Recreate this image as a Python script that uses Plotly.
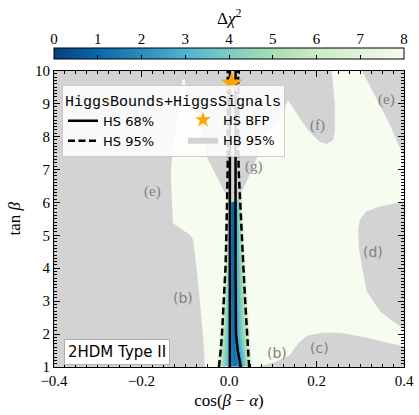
import plotly.graph_objects as go

# ---------------- data ----------------
# Delta chi^2 field (HiggsSignals)
cos_nodes = [-0.40, -0.032, -0.026, -0.020, -0.014, -0.008, -0.003, 0.002, 0.007, 0.012,
             0.017, 0.022, 0.027, 0.032, 0.037, 0.042, 0.047, 0.053, 0.40]
tanb_nodes = [1.0, 1.5, 2.0, 3.0, 4.0, 5.0, 6.0, 7.0, 8.0, 9.0, 10.0]
dchi2 = [
    [9, 8.0, 6.5, 5.6, 4.7, 3.8, 3.0, 2.3, 1.7, 1.3, 1.3, 1.7, 2.3, 3.3, 4.3, 5.2, 6.2, 8.0, 9],
    [9, 9, 7.5, 6.2, 5.0, 4.0, 3.1, 2.3, 1.5, 1.2, 1.7, 2.6, 3.3, 4.0, 4.9, 5.8, 7.0, 9, 9],
    [9, 9, 8.5, 7.0, 5.6, 4.3, 3.2, 2.3, 1.3, 1.2, 2.5, 3.3, 4.0, 4.7, 5.4, 6.2, 7.8, 9, 9],
    [9, 9, 9, 8.5, 6.7, 4.8, 3.4, 2.3, 1.2, 1.2, 2.7, 3.6, 4.4, 5.2, 6.0, 7.5, 9, 9, 9],
    [9, 9, 9, 9, 8.3, 6.0, 3.8, 2.3, 1.1, 1.1, 2.8, 3.9, 4.9, 5.8, 7.5, 9, 9, 9, 9],
    [9, 9, 9, 9, 9, 7.0, 4.2, 2.3, 1.0, 1.0, 3.0, 4.3, 5.5, 7.3, 9, 9, 9, 9, 9],
    [9, 9, 9, 9, 9, 8.5, 5.3, 2.3, 0.9, 0.9, 3.2, 4.9, 6.8, 9, 9, 9, 9, 9, 9],
    [9, 9, 9, 9, 9, 9, 6.0, 2.3, 0.7, 0.7, 3.4, 6.0, 8.5, 9, 9, 9, 9, 9, 9],
    [9, 9, 9, 9, 9, 9, 6.0, 2.3, 0.5, 0.5, 3.3, 6.4, 9, 9, 9, 9, 9, 9, 9],
    [9, 9, 9, 9, 9, 9, 6.0, 2.2, 0.1, 0.2, 3.2, 6.4, 9, 9, 9, 9, 9, 9, 9],
    [9, 9, 9, 9, 9, 9, 6.0, 2.2, 0.3, 0.3, 3.2, 6.4, 9, 9, 9, 9, 9, 9, 9],
]

# HS contours (68% solid, 95% dashed)
tanb_lines = [1.0, 1.2, 1.5, 2.0, 3.0, 4.0, 5.0, 6.0, 7.0, 8.0, 9.0, 10.0]
hs68_left = [0.002, 0.002, 0.002, 0.002, 0.002, 0.002, 0.002, 0.002, 0.002, 0.002, 0.002, 0.002]
hs68_right = [0.027, 0.024, 0.020, 0.016, 0.015, 0.015, 0.015, 0.015, 0.015, 0.015, 0.015, 0.015]
hs95_left = [-0.023, -0.021, -0.019, -0.016, -0.012, -0.008, -0.006, -0.004, -0.003, -0.003, -0.003, -0.003]
hs95_right = [0.046, 0.045, 0.043, 0.041, 0.037, 0.033, 0.029, 0.025, 0.022, 0.021, 0.021, 0.021]

# HiggsBounds 95% excluded regions (polygons)
hb_main_x = [-0.4, -0.4, 0.235, 0.242, 0.242, 0.238, 0.224, 0.208, 0.185, 0.162, 0.144, 0.135,
             0.117, 0.082, 0.064, 0.048, 0.030, 0.021, 0.002, -0.005, -0.027, -0.050, -0.066,
             -0.089, -0.098, -0.101, -0.107, -0.110, -0.117, -0.128, -0.130, -0.133, -0.130,
             -0.128, -0.089, -0.082, -0.073, -0.066, -0.059, -0.055]
hb_main_y = [1.0, 10.0, 10.0, 8.93, 8.129, 7.891, 7.772, 7.832, 8.129, 8.544, 8.93, 9.079,
             8.634, 7.891, 7.356, 6.851, 6.347, 6.05, 5.99, 6.168, 6.762, 7.356, 8.337,
             9.079, 9.346, 9.733, 9.733, 9.346, 8.634, 7.742, 7.386, 6.851, 5.871,
             5.366, 5.01, 4.861, 3.881, 2.901, 1.891, 1.0]
hb_e_x = [0.304, 0.322, 0.345, 0.368, 0.391, 0.4, 0.4]
hb_e_y = [10.0, 9.525, 8.93, 8.337, 7.653, 7.386, 10.0]
hb_d_x = [0.4, 0.345, 0.313, 0.299, 0.295, 0.297, 0.304, 0.315, 0.345, 0.379, 0.4]
hb_d_y = [6.02, 5.87, 5.72, 5.46, 5.16, 4.62, 4.03, 3.29, 2.69, 2.34, 2.16]
hb_c_x = [0.066, 0.105, 0.139, 0.158, 0.178, 0.215, 0.254, 0.315, 0.361, 0.4, 0.4]
hb_c_y = [1.0, 1.149, 1.356, 1.713, 1.95, 2.04, 2.04, 1.891, 1.743, 1.624, 1.0]

# HiggsSignals best fit point
bfp_cos = [0.006]
bfp_tanb = [9.62]

# region labels
label_text = ["(b)", "(b)", "(c)", "(d)", "(e)", "(e)", "(f)", "(g)"]
label_x = [-0.105, 0.11, 0.206, 0.329, -0.176, 0.359, 0.203, 0.057]
label_y = [3.11, 1.42, 1.59, 4.50, 6.32, 9.11, 8.34, 7.09]
label_serif = [False, False, False, False, True, True, True, True]

x_ticks = [-0.4, -0.2, 0.0, 0.2, 0.4]
x_ticklabels = ["\u22120.4", "\u22120.2", "0.0", "0.2", "0.4"]
y_ticks = [1, 2, 3, 4, 5, 6, 7, 8, 9, 10]
cbar_ticks = [0, 1, 2, 3, 4, 5, 6, 7, 8]

gnbu_r = [
    [0.0, "rgb(8,64,129)"], [0.125, "rgb(8,104,172)"], [0.25, "rgb(43,140,190)"],
    [0.375, "rgb(78,179,211)"], [0.5, "rgb(123,204,196)"], [0.625, "rgb(168,221,181)"],
    [0.75, "rgb(204,235,197)"], [0.875, "rgb(224,243,219)"], [1.0, "rgb(247,252,240)"],
]

# ---------------- layout geometry ----------------
W, H = 419, 415
ML, MR, MT, MB = 54, 15, 0, 48
PH = H - MT - MB          # plot-area height in px (367)
plot_top_px = 64
bar_top_px, bar_bot_px = 46, 57

serif = "Liberation Serif"
sans = "DejaVu Sans"

fig = go.Figure()

fig.add_trace(go.Heatmap(
    x=cos_nodes, y=tanb_nodes, z=dchi2, zmin=0, zmax=8, zsmooth="best",
    colorscale=gnbu_r, hoverinfo="skip",
    colorbar=dict(
        orientation="h", x=0.5, xanchor="center", len=1, lenmode="fraction",
        y=(PH - bar_bot_px) / PH, yanchor="bottom", thickness=bar_bot_px - bar_top_px,
        xpad=0, ypad=0, outlinecolor="black", outlinewidth=1,
        ticks="inside", ticklen=4, tickcolor="black", tick0=0, dtick=1,
        showticklabels=False,
    ),
))

def join(*polys):
    xs, ys = [], []
    for px_, py_ in polys:
        if xs:
            xs.append(None); ys.append(None)
        xs += px_; ys += py_
    return xs, ys

gx, gy = join((hb_main_x, hb_main_y), (hb_e_x, hb_e_y), (hb_d_x, hb_d_y), (hb_c_x, hb_c_y))
fig.add_trace(go.Scatter(
    x=gx, y=gy, mode="lines", fill="toself", fillcolor="#d3d3d3",
    line=dict(width=0, color="#d3d3d3"), name="HB 95%", legend="legend2",
    legendrank=2, hoverinfo="skip",
))

lx, ly = join((hs68_left, tanb_lines), (hs68_right, tanb_lines))
fig.add_trace(go.Scatter(
    x=lx, y=ly, mode="lines", line=dict(color="black", width=2.5),
    name="HS 68%", legend="legend", hoverinfo="skip",
))
dx, dy = join((hs95_left, tanb_lines), (hs95_right, tanb_lines))
fig.add_trace(go.Scatter(
    x=dx, y=dy, mode="lines", line=dict(color="black", width=2.5, dash="7px,3.5px"),
    name="HS 95%", legend="legend", hoverinfo="skip",
))
fig.add_trace(go.Scatter(
    x=bfp_cos, y=bfp_tanb, mode="markers",
    marker=dict(symbol="star", size=17, color="#ffa500", line=dict(width=0)),
    name="HS BFP", legend="legend2", legendrank=1, hoverinfo="skip",
))
# carrier for the colour-bar label axis
fig.add_trace(go.Scatter(x=[None], y=[None], xaxis="x2", showlegend=False, hoverinfo="skip"))

for t, x, y, s in zip(label_text, label_x, label_y, label_serif):
    fig.add_annotation(x=x, y=y, text=t, showarrow=False,
                       font=dict(family=serif if s else sans, size=15 if s else 14, color="#808080"))

fig.add_annotation(x=-0.257, y=1.46, text="2HDM Type II", showarrow=False,
                   font=dict(family=sans, size=15, color="black"),
                   bgcolor="white", bordercolor="#b0b0b0", borderwidth=1, borderpad=3)

# colour-bar title
fig.add_annotation(xref="paper", yref="paper", x=0.5, y=(PH - 23) / PH, yanchor="bottom",
                   showarrow=False, text="\u0394<i>\u03c7</i><sup>2</sup>",
                   font=dict(family=serif, size=17, color="black"))

tickfont = dict(family=serif, size=15, color="black")
fig.update_layout(
    width=W, height=H, margin=dict(l=ML, r=MR, t=MT, b=MB),
    paper_bgcolor="white", plot_bgcolor="white", showlegend=True,
    xaxis=dict(
        range=[-0.4, 0.4], domain=[0, 1], tickvals=x_ticks, ticktext=x_ticklabels,
        ticks="inside", ticklen=6, tickwidth=1, tickcolor="black",
        showline=True, linecolor="black", linewidth=1, mirror="ticks",
        showgrid=False, zeroline=False, tickfont=tickfont,
        minor=dict(ticks="inside", dtick=0.025, ticklen=3, tickcolor="black", showgrid=False),
        title=dict(text="cos(<i>\u03b2</i> \u2212 <i>\u03b1</i>)", font=dict(family=serif, size=17, color="black"), standoff=6),
    ),
    yaxis=dict(
        range=[1, 10], domain=[0, (PH - plot_top_px) / PH], tickvals=y_ticks,
        ticks="inside", ticklen=6, tickwidth=1, tickcolor="black",
        showline=True, linecolor="black", linewidth=1, mirror="ticks",
        showgrid=False, zeroline=False, tickfont=tickfont,
        minor=dict(ticks="inside", dtick=0.1, ticklen=3, tickcolor="black", showgrid=False),
        title=dict(text="tan <i>\u03b2</i>", font=dict(family=serif, size=17, color="black"), standoff=10),
    ),
    xaxis2=dict(
        overlaying="x", side="top", anchor="free", position=(PH - bar_top_px) / PH,
        range=[0, 8], tickvals=cbar_ticks, ticks="", showline=False, showgrid=False,
        zeroline=False, tickfont=tickfont, ticklabelstandoff=6,
    ),
    legend=dict(
        x=(62 - ML) / 350, y=(PH - 79) / PH, xanchor="left", yanchor="top",
        bgcolor="rgba(255,255,255,0.85)", bordercolor="#cccccc", borderwidth=1,
        font=dict(family=sans, size=13, color="black"),
        title=dict(text="HiggsBounds+HiggsSignals", font=dict(family="Liberation Mono", size=15, color="black")),
    ),
    legend2=dict(
        x=(183 - ML) / 350, y=(PH - 99) / PH, xanchor="left", yanchor="top",
        bgcolor="rgba(0,0,0,0)", borderwidth=0, itemsizing="constant",
        font=dict(family=sans, size=13, color="black"),
    ),
)

fig.write_html("out.html", config={"displayModeBar": False},
               post_script="document.body.style.margin='0px';")
